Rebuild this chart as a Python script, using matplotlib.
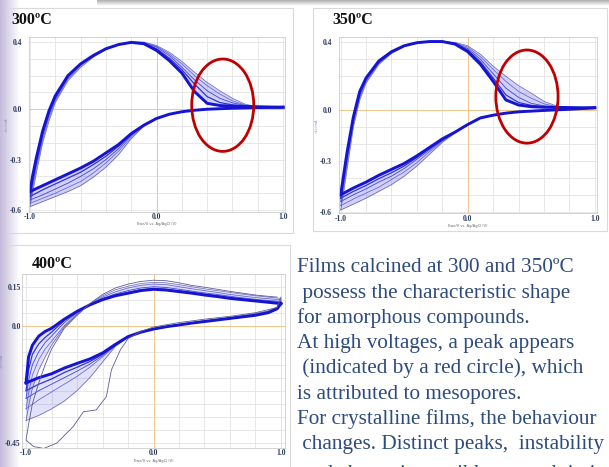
import numpy as np
import matplotlib
matplotlib.use("Agg")
import matplotlib.pyplot as plt
from matplotlib.colors import LinearSegmentedColormap
from matplotlib.patches import Ellipse, Rectangle
from matplotlib.ticker import MultipleLocator

W, H = 609, 467
SERIF = "Liberation Serif"
TEXT_BLUE = "#2d4b7c"
TICK_COLOR = "#2b3a5e"
ZERO_COLOR = "#f0c68a"

# potential grids (V) shared by all cycles: cathodic sweep then anodic sweep
V_DOWN = [1.0, 0.97, 0.9, 0.8, 0.6, 0.4, 0.3, 0.2, 0.1, 0.0, -0.1, -0.2, -0.3,
          -0.4, -0.5, -0.6, -0.7, -0.8, -0.9, -1.0]
V_UP = [-1.0, -0.98, -0.95, -0.9, -0.85, -0.8, -0.7, -0.6, -0.5, -0.4, -0.3, -0.2,
        -0.1, 0.0, 0.1, 0.2, 0.3, 0.4, 0.5, 0.6, 0.7, 0.8, 0.9, 1.0]

# 300 C film, current (mA), early cycle -> late cycle
DOWN_300 = [
    [0.012, 0.011, 0.011, 0.01, 0.006, 0.0, -0.006, -0.015, -0.03, -0.055, -0.10, -0.175, -0.27, -0.345, -0.405, -0.455, -0.49, -0.52, -0.55, -0.58],
    [0.012, 0.011, 0.011, 0.01, 0.006, 0.0, -0.006, -0.015, -0.03, -0.055, -0.098, -0.165, -0.25, -0.32, -0.38, -0.43, -0.465, -0.50, -0.53, -0.56],
    [0.012, 0.011, 0.011, 0.01, 0.006, 0.0, -0.006, -0.015, -0.03, -0.055, -0.097, -0.155, -0.235, -0.30, -0.355, -0.40, -0.44, -0.475, -0.51, -0.54],
    [0.012, 0.011, 0.011, 0.01, 0.006, 0.0, -0.006, -0.015, -0.03, -0.055, -0.096, -0.15, -0.22, -0.28, -0.33, -0.375, -0.41, -0.445, -0.48, -0.52],
    [0.012, 0.011, 0.011, 0.01, 0.006, 0.0, -0.006, -0.015, -0.03, -0.055, -0.095, -0.145, -0.21, -0.26, -0.31, -0.35, -0.385, -0.42, -0.455, -0.49],
]
UP_300 = [
    [-0.58, -0.50, -0.38, -0.20, -0.07, 0.04, 0.17, 0.25, 0.31, 0.355, 0.385, 0.40, 0.40, 0.38, 0.34, 0.285, 0.22, 0.16, 0.11, 0.065, 0.03, 0.015, 0.013, 0.012],
    [-0.56, -0.47, -0.35, -0.18, -0.05, 0.05, 0.18, 0.26, 0.315, 0.357, 0.385, 0.40, 0.398, 0.375, 0.33, 0.27, 0.20, 0.14, 0.09, 0.05, 0.025, 0.015, 0.013, 0.012],
    [-0.54, -0.45, -0.33, -0.16, -0.035, 0.06, 0.19, 0.265, 0.318, 0.358, 0.385, 0.399, 0.395, 0.37, 0.32, 0.25, 0.175, 0.11, 0.065, 0.038, 0.022, 0.015, 0.013, 0.012],
    [-0.52, -0.43, -0.31, -0.145, -0.02, 0.07, 0.195, 0.268, 0.32, 0.36, 0.385, 0.398, 0.392, 0.36, 0.305, 0.235, 0.15, 0.075, 0.04, 0.026, 0.019, 0.015, 0.013, 0.012],
    [-0.49, -0.40, -0.29, -0.13, -0.01, 0.08, 0.20, 0.27, 0.32, 0.36, 0.385, 0.398, 0.39, 0.35, 0.29, 0.215, 0.105, 0.035, 0.022, 0.018, 0.016, 0.015, 0.013, 0.012],
]

# 350 C film
DOWN_350 = [
    [0.014, 0.012, 0.009, 0.005, -0.002, -0.01, -0.018, -0.03, -0.046, -0.085, -0.135, -0.19, -0.26, -0.33, -0.39, -0.44, -0.48, -0.52, -0.555, -0.59],
    [0.014, 0.012, 0.009, 0.005, -0.002, -0.01, -0.018, -0.03, -0.046, -0.085, -0.133, -0.185, -0.245, -0.31, -0.365, -0.41, -0.455, -0.49, -0.525, -0.565],
    [0.014, 0.012, 0.009, 0.005, -0.002, -0.01, -0.018, -0.03, -0.046, -0.085, -0.132, -0.18, -0.235, -0.29, -0.345, -0.39, -0.425, -0.465, -0.50, -0.54],
    [0.014, 0.012, 0.009, 0.005, -0.002, -0.01, -0.018, -0.03, -0.046, -0.085, -0.131, -0.175, -0.225, -0.28, -0.33, -0.37, -0.405, -0.445, -0.48, -0.52],
    [0.014, 0.012, 0.009, 0.005, -0.002, -0.01, -0.018, -0.03, -0.046, -0.085, -0.13, -0.17, -0.22, -0.27, -0.315, -0.35, -0.385, -0.425, -0.46, -0.50],
]
UP_350 = [
    [-0.59, -0.50, -0.35, -0.10, 0.06, 0.16, 0.27, 0.335, 0.375, 0.397, 0.405, 0.405, 0.40, 0.38, 0.33, 0.26, 0.20, 0.145, 0.10, 0.052, 0.024, 0.016, 0.014, 0.014],
    [-0.565, -0.47, -0.32, -0.08, 0.075, 0.17, 0.275, 0.338, 0.377, 0.397, 0.405, 0.405, 0.398, 0.372, 0.315, 0.24, 0.17, 0.11, 0.07, 0.037, 0.02, 0.016, 0.014, 0.014],
    [-0.54, -0.44, -0.29, -0.06, 0.09, 0.178, 0.28, 0.34, 0.378, 0.398, 0.405, 0.405, 0.395, 0.363, 0.30, 0.215, 0.13, 0.075, 0.04, 0.025, 0.018, 0.015, 0.014, 0.014],
    [-0.52, -0.42, -0.27, -0.05, 0.10, 0.185, 0.285, 0.343, 0.379, 0.398, 0.405, 0.405, 0.392, 0.355, 0.285, 0.19, 0.09, 0.045, 0.028, 0.02, 0.017, 0.015, 0.014, 0.014],
    [-0.50, -0.40, -0.25, -0.04, 0.11, 0.19, 0.29, 0.345, 0.38, 0.398, 0.405, 0.405, 0.39, 0.345, 0.27, 0.17, 0.06, 0.03, 0.02, 0.017, 0.016, 0.015, 0.014, 0.014],
]

# 400 C film
DOWN_400 = [
    [0.105, 0.072, 0.057, 0.047, 0.032, 0.02, 0.012, 0.005, -0.002, -0.01, -0.024, -0.045, -0.08, -0.14, -0.20, -0.25, -0.29, -0.32, -0.345, -0.365],
    [0.10, 0.07, 0.055, 0.045, 0.03, 0.018, 0.011, 0.004, -0.003, -0.012, -0.025, -0.045, -0.078, -0.12, -0.16, -0.195, -0.225, -0.255, -0.285, -0.32],
    [0.093, 0.068, 0.053, 0.043, 0.029, 0.017, 0.01, 0.004, -0.003, -0.012, -0.025, -0.044, -0.076, -0.115, -0.148, -0.175, -0.20, -0.225, -0.25, -0.28],
    [0.088, 0.066, 0.051, 0.041, 0.028, 0.016, 0.01, 0.003, -0.004, -0.013, -0.025, -0.043, -0.074, -0.11, -0.138, -0.16, -0.18, -0.205, -0.225, -0.25],
    [0.085, 0.065, 0.05, 0.04, 0.028, 0.016, 0.01, 0.003, -0.004, -0.013, -0.025, -0.042, -0.072, -0.105, -0.128, -0.145, -0.163, -0.185, -0.20, -0.22],
]
UP_400 = [
    [-0.365, -0.31, -0.24, -0.17, -0.12, -0.075, -0.005, 0.042, 0.083, 0.115, 0.138, 0.152, 0.162, 0.167, 0.165, 0.158, 0.15, 0.142, 0.135, 0.128, 0.121, 0.115, 0.11, 0.105],
    [-0.32, -0.26, -0.19, -0.13, -0.09, -0.06, 0.0, 0.045, 0.08, 0.11, 0.13, 0.145, 0.155, 0.16, 0.158, 0.15, 0.142, 0.135, 0.128, 0.12, 0.114, 0.108, 0.104, 0.10],
    [-0.28, -0.21, -0.15, -0.10, -0.065, -0.04, 0.012, 0.05, 0.08, 0.105, 0.122, 0.135, 0.145, 0.15, 0.147, 0.14, 0.133, 0.126, 0.12, 0.113, 0.107, 0.101, 0.097, 0.093],
    [-0.25, -0.17, -0.11, -0.07, -0.045, -0.025, 0.02, 0.053, 0.08, 0.10, 0.117, 0.128, 0.138, 0.143, 0.14, 0.134, 0.128, 0.121, 0.115, 0.108, 0.102, 0.097, 0.092, 0.088],
    [-0.22, -0.12, -0.075, -0.04, -0.022, -0.01, 0.025, 0.055, 0.08, 0.10, 0.115, 0.125, 0.135, 0.14, 0.137, 0.131, 0.125, 0.118, 0.112, 0.105, 0.10, 0.095, 0.09, 0.085],
]
# first (conditioning) cycle of the 400 C film, with the deep cathodic excursion
FIRST_400_V = [1.0, 0.97, 0.8, 0.6, 0.4, 0.2, 0.0, -0.1, -0.2, -0.26, -0.33, -0.37, -0.45, -0.55,
               -0.63, -0.76, -0.86, -0.94, -1.0, -0.98, -0.95, -0.9, -0.85, -0.8, -0.7, -0.6,
               -0.5, -0.4, -0.3, -0.2, -0.1, 0.0, 0.1, 0.2, 0.3, 0.4, 0.5, 0.6, 0.7, 0.8, 0.9, 0.97]
FIRST_400_I = [0.11, 0.07, 0.05, 0.036, 0.025, 0.012, -0.005, -0.022, -0.05, -0.093, -0.17, -0.273,
               -0.324, -0.331, -0.388, -0.452, -0.472, -0.465, -0.44, -0.38, -0.30, -0.22, -0.15,
               -0.09, -0.01, 0.04, 0.085, 0.12, 0.145, 0.16, 0.17, 0.175, 0.173, 0.165, 0.155,
               0.148, 0.14, 0.132, 0.125, 0.118, 0.113, 0.11]

X_TICKS = [-1.0, 0.0, 1.0]
X_LABELS = ["-1.0", "0.0", "1.0"]
Y_TICKS_LOW = [0.4, 0.0, -0.3, -0.6]
Y_LABELS_LOW = ["0.4", "0.0", "-0.3", "-0.6"]
Y_TICKS_HIGH = [0.15, 0.0, -0.45]
Y_LABELS_HIGH = ["0.15", "0.0", "-0.45"]

TEXT_LINES = [
    "Films calcined at 300 and 350\u00baC",
    " possess the characteristic shape",
    "for amorphous compounds.",
    "At high voltages, a peak appears",
    " (indicated by a red circle), which",
    "is attributed to mesopores.",
    "For crystalline films, the behaviour",
    " changes. Distinct peaks,  instability",
    " and charge is possible to reach in it",
]

CYCLE_COLORS = ["#6464a6", "#6262dc", "#4c4cdc", "#3434d8", "#1414d2"]
CYCLE_LW = [0.5, 0.55, 0.65, 0.9, 2.1]


def px_rect(left, top, right, bottom):
    return [left / W, 1 - bottom / H, (right - left) / W, (bottom - top) / H]


fig = plt.figure(figsize=(W / 100, H / 100), dpi=100)
fig.patch.set_facecolor("white")

# slide background: lavender edge, shadow strip, panel frames
bg = fig.add_axes([0, 0, 1, 1], zorder=-10)
lav = LinearSegmentedColormap.from_list("lav", ["#c4badb", "#ffffff"])
shade = LinearSegmentedColormap.from_list("shade", ["#b0b0b0", "#ffffff"])
bg.imshow(np.linspace(0, 1, 64)[None, :], extent=(0, 20, H, 0), cmap=lav, aspect="auto")
bg.imshow(np.linspace(0, 1, 16)[:, None], extent=(97, W, 6, 0), cmap=shade, aspect="auto")
for x0, y0, w, h in [(7, 8, 286, 225), (312.5, 8, 294, 223), (8, 245, 282, 230)]:
    bg.add_patch(Rectangle((x0, y0), w, h, fill=False, ec="#dadada", lw=0.8))
bg.set_xlim(0, W)
bg.set_ylim(H, 0)
bg.axis("off")


def draw_panel(ax, down, up, ylim, yticks, ylabels, ygrid, ypad, xlim, band_alpha):
    ax.set_xlim(xlim)
    ax.set_ylim(ylim)
    ax.set_axisbelow(True)
    ax.xaxis.set_minor_locator(MultipleLocator(0.2))
    ax.yaxis.set_minor_locator(MultipleLocator(ygrid))
    ax.set_xticks(X_TICKS)
    ax.set_xticklabels(X_LABELS, fontfamily=SERIF, fontweight="bold")
    ax.set_yticks(yticks)
    ax.set_yticklabels(ylabels, fontfamily=SERIF, fontweight="bold")
    ax.tick_params(which="both", length=0, labelsize=5.5, labelcolor=TICK_COLOR)
    ax.tick_params(axis="x", pad=1)
    ax.tick_params(axis="y", pad=ypad)
    ax.grid(which="both", color="#e3e3e3", lw=0.6)
    for sp in ax.spines.values():
        sp.set_color("#cccccc")
        sp.set_linewidth(0.6)
    ax.axhline(0, color=ZERO_COLOR, lw=0.7, zorder=1.5)
    ax.axvline(0, color=ZERO_COLOR, lw=0.7, zorder=1.5)
    ax.set_xlabel("Ewe/V vs. Ag/AgCl (V)", fontsize=2.6, color="#666666", labelpad=1)
    ax.set_ylabel("<I>/mA", fontsize=2.6, color="#8890b0", labelpad=1)

    ax.fill_between(V_DOWN, down[0], down[-1], color="#5a5ae6", alpha=band_alpha, lw=0)
    ax.fill_between(V_UP, up[0], up[-1], color="#5a5ae6", alpha=band_alpha, lw=0)
    for k, (dn, ua) in enumerate(zip(down, up)):
        ax.plot(V_DOWN, dn, color=CYCLE_COLORS[k], lw=CYCLE_LW[k], solid_joinstyle="round")
        ax.plot(V_UP, ua, color=CYCLE_COLORS[k], lw=CYCLE_LW[k], solid_joinstyle="round")


ax1 = fig.add_axes(px_rect(28.7, 37, 285, 211.7))
draw_panel(ax1, DOWN_300, UP_300, (-0.61, 0.43), Y_TICKS_LOW, Y_LABELS_LOW, 0.1, 5, (-1.01, 1.015), 0.28)
ax1.add_patch(Ellipse((0.523, 0.024), 0.49, 0.55, fill=False, ec="#c00000", lw=2, clip_on=False, zorder=5))

ax2 = fig.add_axes(px_rect(339.4, 37.3, 596.7, 213.4))
draw_panel(ax2, DOWN_350, UP_350, (-0.61, 0.43), Y_TICKS_LOW, Y_LABELS_LOW, 0.1, 5.5, (-1.01, 1.015), 0.28)
ax2.add_patch(Ellipse((0.466, 0.08), 0.49, 0.55, fill=False, ec="#c00000", lw=2, clip_on=False, zorder=5))

ax3 = fig.add_axes(px_rect(22.2, 273.7, 284.8, 447.9))
draw_panel(ax3, DOWN_400, UP_400, (-0.47, 0.2), Y_TICKS_HIGH, Y_LABELS_HIGH, 0.05, 1, (-1.03, 1.03), 0.18)
ax3.plot(FIRST_400_V, FIRST_400_I, color="#5c5c96", lw=0.6)

# panel titles
for x, base, label in [(11.7, 24, "300\u00baC"), (332.3, 24, "350\u00baC"), (31.7, 267.7, "400\u00baC")]:
    fig.text(x / W, 1 - base / H, label, fontfamily=SERIF, fontweight="bold",
             fontsize=11.5, color="#111111", va="baseline")

# slide text; the last line runs off the bottom of the slide as in the screenshot
for i, line in enumerate(TEXT_LINES):
    base = 272.3 + 25.3 * i if i < len(TEXT_LINES) - 1 else 479.5
    fig.text(297 / W, 1 - base / H, line, fontfamily=SERIF, fontsize=15.3,
             color=TEXT_BLUE, va="baseline")

fig.savefig("out.png", dpi=100)
